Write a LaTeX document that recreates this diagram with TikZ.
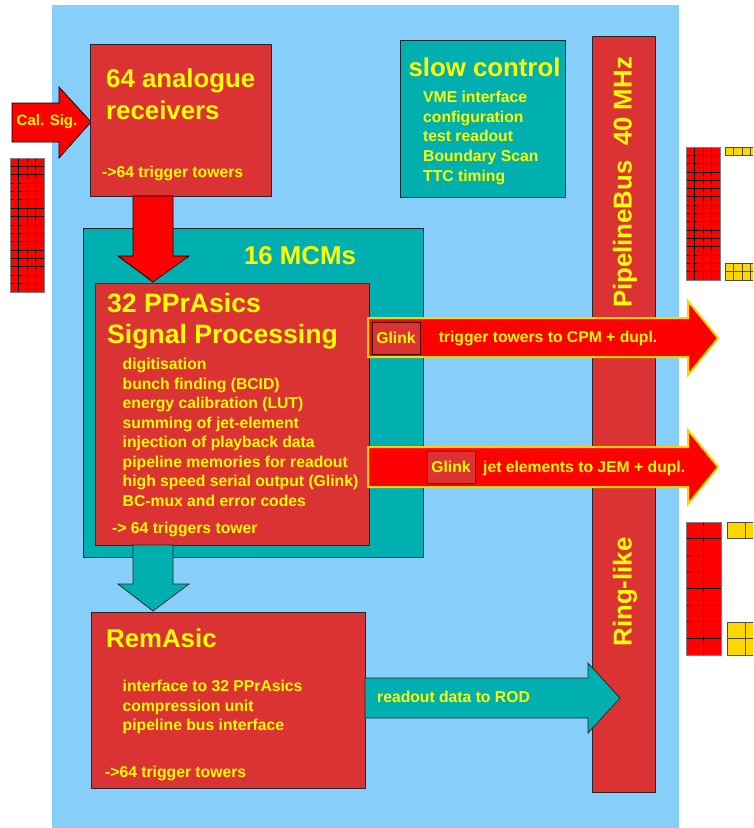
\documentclass[tikz,border=0pt]{standalone}
\usepackage{fontspec}
\setmainfont{Liberation Sans}
\definecolor{bgblue}{RGB}{135,206,250}
\definecolor{boxred}{RGB}{219,51,51}
\definecolor{boxteal}{RGB}{0,175,175}
\definecolor{txtyel}{RGB}{255,255,0}
\definecolor{arrred}{RGB}{255,0,0}
\definecolor{arrgold}{RGB}{255,210,0}
\definecolor{gridyel}{RGB}{255,215,0}
\begin{document}
\begin{tikzpicture}[x=1pt,y=-1pt,
  redbox/.style={draw=black!85, line width=1pt, fill=boxred, inner sep=0pt, anchor=north west},
  tealbox/.style={draw=black!85, line width=1pt, fill=boxteal, inner sep=0pt, anchor=north west},
  bigtxt/.style={text=txtyel, font=\fontsize{25.8}{30}\selectfont\bfseries, inner sep=0pt},
  titletxt/.style={text=txtyel, font=\fontsize{26.6}{31}\selectfont\bfseries, inner sep=0pt},
  smalltxt/.style={text=txtyel, font=\fontsize{15.7}{19}\selectfont\bfseries, inner sep=0pt},
  redcell/.style={fill=arrred, draw=black, line width=0.8pt},
  yelcell/.style={fill=gridyel, draw=black!70, line width=0.8pt},
  blockred/.style={fill=arrred, draw=black, line width=0.8pt, line join=miter},
  blockgold/.style={fill=arrred, draw=arrgold, line width=2pt, line join=miter},
  blockteal/.style={fill=boxteal, draw=black!85, line width=0.8pt, line join=miter},
  glinkbox/.style={fill=boxred, draw=black!80!red, line width=1pt, minimum width=48pt, minimum height=32pt, inner sep=0pt, text=txtyel, font=\fontsize{15.7}{19}\selectfont\bfseries}
  ]
\useasboundingbox (0,0) rectangle (753,828);
\fill[white] (0,0) rectangle (753,828);
\fill[bgblue] (52,5) rectangle (679,828);

\begin{scope}
\clip (0,0) rectangle (753,828);
% left grid
\foreach \c in {0,...,3}{\foreach \r in {0,...,15}{
  \draw[redcell] ({10+\c*8.5},{158+\r*8.375}) rectangle +(8.5,8.375);}}
\draw[gray, line width=1pt] (10,158) rectangle (44,292);
% right top grid
\foreach \c in {0,...,3}{\foreach \r in {0,...,15}{
  \draw[redcell] ({686+\c*8.5},{147+\r*8.3125}) rectangle +(8.5,8.3125);}}
\draw[gray, line width=1pt] (686,147) rectangle (720,280);
\foreach \c in {0,...,4}{
  \draw[yelcell] ({725+\c*8.5},147) rectangle +(8.5,8);
  \draw[yelcell] ({725+\c*8.5},263) rectangle +(8.5,8.5);
  \draw[yelcell] ({725+\c*8.5},271.5) rectangle +(8.5,8.5);}
% right bottom grid
\foreach \c in {0,1}{\foreach \r in {0,...,7}{
  \draw[redcell] ({686+\c*17.5},{522+\r*16.625}) rectangle +(17.5,16.625);}}
\draw[gray, line width=1pt] (686,522) rectangle (721,655);
\foreach \c in {0,1}{
  \draw[yelcell] ({727+\c*18},522) rectangle +(18,16);
  \draw[yelcell] ({727+\c*18},622) rectangle +(18,16.5);
  \draw[yelcell] ({727+\c*18},638.5) rectangle +(18,16.5);}
\end{scope}

% Cal. Sig. arrow
\draw[blockred] (12,103) -- (59,103) -- (59,87) -- (91,122) -- (59,158) -- (59,142) -- (12,142) -- cycle;
\node[text=txtyel, font=\fontsize{15}{18}\selectfont\bfseries, inner sep=0pt] (calsig) at (47,122) {Cal. Sig.};

% boxes
\node[redbox, minimum width=181pt, minimum height=152pt] (recv) at (90,44) {};
\node[tealbox, minimum width=165pt, minimum height=157pt] (slow) at (400,40) {};
\node[redbox, minimum width=63pt, minimum height=756pt] (pbus) at (592,36) {};
\node[tealbox, minimum width=340pt, minimum height=329pt] (mcm) at (83,228) {};

% red down arrow
\draw[blockred] (133,196) -- (173,196) -- (173,256) -- (189,256) -- (153,282) -- (118,256) -- (133,256) -- cycle;

\node[redbox, minimum width=274pt, minimum height=262pt] (ppr) at (95,283) {};

% teal down arrow
\draw[blockteal] (133,545) -- (173,545) -- (173,584) -- (189,584) -- (153,611) -- (118,584) -- (133,584) -- cycle;

\node[redbox, minimum width=274pt, minimum height=176pt] (rem) at (91,612) {};

% readout arrow
\draw[blockteal] (365,678) -- (588,678) -- (588,663) -- (620,698) -- (588,733) -- (588,718) -- (365,718) -- cycle;

% output arrows
\draw[blockgold] (368,318) -- (688,318) -- (688,301) -- (718,338) -- (688,375) -- (688,357) -- (368,357) -- cycle;
\draw[blockgold] (368,447) -- (688,447) -- (688,430) -- (718,467) -- (688,504) -- (688,487) -- (368,487) -- cycle;

\node[glinkbox] (glink1) at (396,338) {Glink};
\node[glinkbox] (glink2) at (451,467) {Glink};

% texts
\node[bigtxt, anchor=base west] (r1) at (106,87) {64 analogue};
\node[bigtxt, anchor=base west] (r2) at (106,119) {receivers};
\node[smalltxt, anchor=base west] (r3) at (102,177) {->64 trigger towers};

\node[bigtxt, anchor=base] (sc0) at (484.5,76) {slow control};
\node[smalltxt, anchor=base west] (sc1) at (423,102.5) {VME interface};
\node[smalltxt, anchor=base west] (sc2) at (423,122) {configuration};
\node[smalltxt, anchor=base west] (sc3) at (423,141.5) {test readout};
\node[smalltxt, anchor=base west] (sc4) at (423,161.5) {Boundary Scan};
\node[smalltxt, anchor=base west] (sc5) at (423,181) {TTC timing};

\node[bigtxt, anchor=base] (mcmt) at (300,264) {16 MCMs};

\node[titletxt, anchor=base west] (p1) at (107,312) {32 PPrAsics};
\node[titletxt, anchor=base west] (p2) at (107,343) {Signal Processing};
\node[smalltxt, anchor=base west] (pl1) at (122.5,369.5) {digitisation};
\node[smalltxt, anchor=base west] (pl2) at (122.5,389) {bunch finding (BCID)};
\node[smalltxt, anchor=base west] (pl3) at (122.5,408.5) {energy calibration (LUT)};
\node[smalltxt, anchor=base west] (pl4) at (122.5,428) {summing of jet-element};
\node[smalltxt, anchor=base west] (pl5) at (122.5,447.5) {injection of playback data};
\node[smalltxt, anchor=base west] (pl6) at (122.5,467) {pipeline memories for readout};
\node[smalltxt, anchor=base west] (pl7) at (122.5,486.5) {high speed serial output (Glink)};
\node[smalltxt, anchor=base west] (pl8) at (122.5,506) {BC-mux and error codes};
\node[smalltxt, anchor=base west] (pl9) at (112,533.5) {-> 64 triggers tower};

\node[bigtxt, anchor=base west] (rm0) at (106,647) {RemAsic};
\node[smalltxt, anchor=base west] (rm1) at (122.5,691.5) {interface to 32 PPrAsics};
\node[smalltxt, anchor=base west] (rm2) at (122.5,711) {compression unit};
\node[smalltxt, anchor=base west] (rm3) at (122.5,730.5) {pipeline bus interface};
\node[smalltxt, anchor=base west] (rm4) at (105,777) {->64 trigger towers};

\node[smalltxt, anchor=base west] (rd) at (377,702.5) {readout data to ROD};
\node[smalltxt, anchor=base] (ttcpm) at (548,342.5) {trigger towers to CPM + dupl.};
\node[smalltxt, anchor=base west] (jem) at (483,472.5) {jet elements to JEM + dupl.};

\node[bigtxt, rotate=90] (pbt) at (625,182.5) {PipelineBus\ \ 40 MHz};
\node[bigtxt, rotate=90] (ring) at (625,592) {Ring-like};
\end{tikzpicture}
\end{document}
